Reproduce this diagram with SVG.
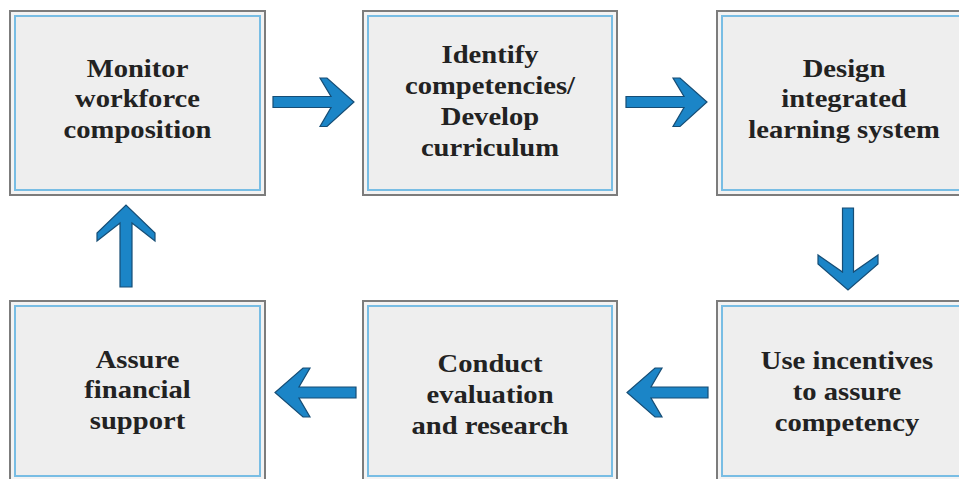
<svg xmlns="http://www.w3.org/2000/svg" width="959" height="479" viewBox="0 0 959 479">
  <style>
    .frame { fill: #f3f3f3; stroke: #7c7c7c; stroke-width: 2; }
    .panel { fill: #eeeeee; stroke: #78bde4; stroke-width: 2; }
    .label { font-family: "Liberation Serif", "Times New Roman", serif; font-weight: bold; font-size: 26px; fill: #222222; text-anchor: middle; }
    .arrow { fill: #1b85c7; stroke: #164d75; stroke-width: 1.2; stroke-linejoin: miter; }
  </style>
  <rect width="959" height="479" fill="#ffffff"/>

  <!-- top row -->
  <g id="monitor">
    <rect class="frame" x="10" y="11" width="255" height="184"/>
    <rect class="panel" x="15" y="16" width="245" height="174"/>
    <g transform="translate(137.5,0) scale(1.1,1)">
      <text class="label" x="0" y="77">Monitor</text>
      <text class="label" x="0" y="107.5">workforce</text>
      <text class="label" x="0" y="138">composition</text>
    </g>
  </g>

  <g id="identify">
    <rect class="frame" x="363" y="11" width="254" height="184"/>
    <rect class="panel" x="368" y="16" width="244" height="174"/>
    <g transform="translate(490,0) scale(1.1,1)">
      <text class="label" x="0" y="63">Identify</text>
      <text class="label" x="0" y="94">competencies/</text>
      <text class="label" x="0" y="125">Develop</text>
      <text class="label" x="0" y="156">curriculum</text>
    </g>
  </g>

  <g id="design">
    <rect class="frame" x="717" y="11" width="254" height="184"/>
    <rect class="panel" x="722" y="16" width="244" height="174"/>
    <g transform="translate(844,0) scale(1.1,1)">
      <text class="label" x="0" y="77">Design</text>
      <text class="label" x="0" y="107.5">integrated</text>
      <text class="label" x="0" y="138">learning system</text>
    </g>
  </g>

  <!-- bottom row -->
  <g id="financial">
    <rect class="frame" x="10" y="301" width="255" height="180"/>
    <rect class="panel" x="15" y="306" width="245" height="170"/>
    <g transform="translate(137.5,0) scale(1.1,1)">
      <text class="label" x="0" y="368">Assure</text>
      <text class="label" x="0" y="398.5">financial</text>
      <text class="label" x="0" y="429">support</text>
    </g>
  </g>

  <g id="evaluation">
    <rect class="frame" x="363" y="301" width="254" height="180"/>
    <rect class="panel" x="368" y="306" width="244" height="170"/>
    <g transform="translate(490,0) scale(1.1,1)">
      <text class="label" x="0" y="372">Conduct</text>
      <text class="label" x="0" y="403">evaluation</text>
      <text class="label" x="0" y="434">and research</text>
    </g>
  </g>

  <g id="incentives">
    <rect class="frame" x="717" y="301" width="254" height="180"/>
    <rect class="panel" x="722" y="306" width="244" height="170"/>
    <g transform="translate(847,0) scale(1.1,1)">
      <text class="label" x="0" y="369">Use incentives</text>
      <text class="label" x="0" y="400">to assure</text>
      <text class="label" x="0" y="431">competency</text>
    </g>
  </g>

  <!-- block arrows between the steps -->
  <g id="connectors">
    <polygon class="arrow" points="273,96.5 331,96.5 320,78 327,78 354,102 327,126.5 320,126.5 331,107.5 273,107.5"/>
    <polygon class="arrow" points="626,96.5 684,96.5 673,78 680,78 707,102 680,126.5 673,126.5 684,107.5 626,107.5"/>
    <polygon class="arrow" points="842.5,208 853.5,208 853.5,272 878,255 878,264 848,290 818,264 818,255 842.5,272"/>
    <polygon class="arrow" points="708,387 651,387 662,368 655,368 627,392.5 655,417 662,417 651,398 708,398"/>
    <polygon class="arrow" points="356,387 299,387 310,368 303,368 275,392.5 303,417 310,417 299,398 356,398"/>
    <polygon class="arrow" points="120,287 132,287 132,223 155,241 155,233 126,205 97,233 97,241 120,223"/>
  </g>
</svg>
